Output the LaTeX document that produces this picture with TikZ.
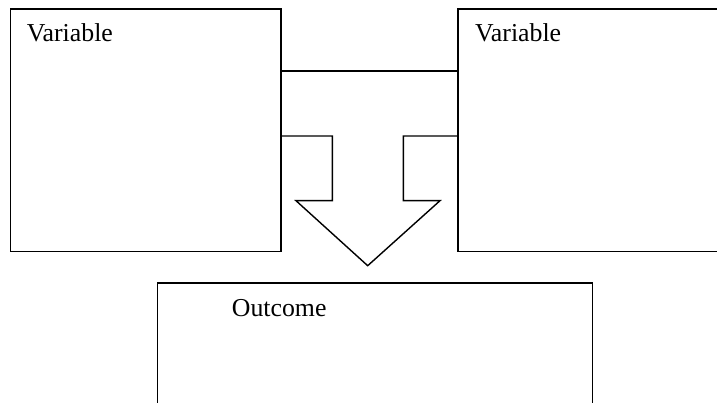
\documentclass[tikz,border=0pt]{standalone}
\usepackage{fontspec}
\setmainfont{Liberation Serif}
\begin{document}
\begin{tikzpicture}[x=1pt,y=-1pt,
  box/.style={draw, line width=1.4pt, rectangle, inner sep=0pt, anchor=north west},
  lbl/.style={anchor=base west, inner sep=0pt, font=\fontsize{25.8}{31}\selectfont},
  link/.style={line width=1.4pt, line join=miter}]
\useasboundingbox (0,0) rectangle (717,403);
\clip (0,0) rectangle (717,403);

% the two variable boxes and the outcome box
\node[box, minimum width=270.8pt, minimum height=242.7pt] (lv) at (9.5,8.3) {};
\node[box, minimum width=280pt, minimum height=242.7pt] (rv) at (457.3,8.3) {};
\node[box, minimum width=435pt, minimum height=150pt] (out) at (156.7,282.3) {};

\node[lbl] (lvt) at (26.7,42) {Variable};
\node[lbl] (rvt) at (475,42) {Variable};
\node[lbl] (outt) at (231.7,316) {Outcome};

% connecting bar between the variables
\coordinate (la) at ([yshift=-62.7pt]lv.north east);
\coordinate (ra) at ([yshift=-62.7pt]rv.north west);
\draw[link] (la) -- (ra);

% block arrow pointing down to the outcome
\coordinate (lb) at ([yshift=-127.7pt]lv.north east);
\coordinate (rb) at ([yshift=-127.7pt]rv.north west);
\coordinate (tip) at (367.7,265.7);
\draw[link] (lb) -- (332.3,136) -- (332.3,200.7) -- (296,200.7) -- (tip)
  -- (440,200.7) -- (403.3,200.7) -- (403.3,136) -- (rb);
\end{tikzpicture}
\end{document}
